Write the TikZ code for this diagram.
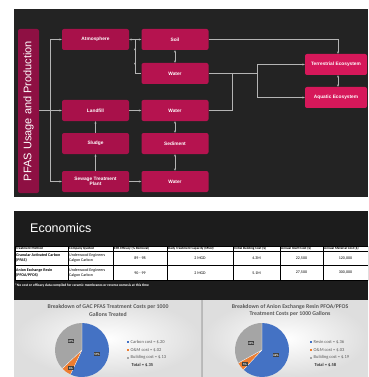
\documentclass[tikz,border=0pt]{standalone}
\usepackage{fontspec}
\setmainfont{Liberation Sans}
\newfontfamily\calib{Carlito}
\usetikzlibrary{arrows.meta}
\definecolor{topbg}{HTML}{232323}
\definecolor{botbg}{HTML}{1C1C1C}
\definecolor{sidec}{HTML}{8E1043}
\definecolor{leftc}{HTML}{A8114A}
\definecolor{midc}{HTML}{B5134F}
\definecolor{rightc}{HTML}{D6185A}
\definecolor{connc}{HTML}{B4B4B4}
\definecolor{pblue}{HTML}{4472C4}
\definecolor{porange}{HTML}{ED7D31}
\definecolor{pgray}{HTML}{A5A5A5}
\definecolor{txtgray}{HTML}{595959}
\begin{document}
\begin{tikzpicture}[x=1pt,y=-1pt,
  box/.style={minimum width=67pt,minimum height=21pt,rounded corners=2pt,inner sep=0pt,
    text=white,font=\bfseries\fontsize{4.8}{5.6}\selectfont,align=center},
  lbox/.style={box,fill=leftc},
  mbox/.style={box,fill=midc},
  rbox/.style={box,fill=rightc,minimum width=62pt},
  conn/.style={draw=connc,line width=0.5pt,arrows={-}},
  tip/.style={-{Stealth[length=2.4pt,width=2pt]}},
  tips/.style={{Stealth[length=2.4pt,width=2pt]}-{Stealth[length=2.4pt,width=2pt]}},
  hdr/.style={anchor=west,inner sep=0pt,font=\calib\bfseries\fontsize{3.4}{4}\selectfont},
  cellL/.style={anchor=west,inner sep=0pt,align=left,font=\calib\fontsize{4}{5.2}\selectfont},
  cellB/.style={cellL,font=\calib\bfseries\fontsize{4}{5.2}\selectfont},
  cellC/.style={inner sep=0pt,font=\calib\fontsize{4}{5}\selectfont},
  ctitle/.style={align=center,inner sep=0pt,text=txtgray,font=\calib\bfseries\fontsize{5.8}{7.2}\selectfont},
  plab/.style={fill=black!75,text=white,inner sep=0.8pt,font=\calib\bfseries\fontsize{3}{3.5}\selectfont},
  leg/.style={anchor=west,inner sep=0pt,text=txtgray,font=\calib\fontsize{4.5}{5}\selectfont}
]
\useasboundingbox (0,0) rectangle (368,377);
\clip (0,0) rectangle (368,377);
\fill[white] (0,0) rectangle (368,377);

% ---------- top slide ----------
\fill[topbg] (14,9) rectangle (368,197);
\node[fill=sidec,rounded corners=2pt,minimum width=21pt,minimum height=164pt,inner sep=0pt] (side) at (28.5,111) {};
\node[rotate=90,text=white,font=\fontsize{11}{13}\selectfont,inner sep=0pt] (sidet) at (side.center) {PFAS Usage and Production};

\node[lbox] (atm) at (95.5,39.5) {Atmosphere};
\node[mbox] (soil) at (175,39.5) {Soil};
\node[mbox] (w1) at (175,73.5) {Water};
\node[rbox] (ter) at (336,64.5) {Terrestrial Ecosystem};
\node[rbox] (aq) at (336,97.5) {Aquatic Ecosystem};
\node[lbox] (land) at (95.5,110.5) {Landfill};
\node[mbox] (w2) at (175,110.5) {Water};
\node[lbox] (slu) at (95.5,143.5) {Sludge};
\node[mbox] (sed) at (175,143.5) {Sediment};
\node[lbox] (sew) at (95.5,181.5) {Sewage Treatment\\Plant};
\node[mbox] (w3) at (175,181.5) {Water};

\coordinate (trunk) at (50,110.5);
\coordinate (as) at (135,39.5);
\coordinate (as1) at (135,48);
\coordinate (as2) at (135,65);
\coordinate (j1) at (257,73.5);
\coordinate (j2) at (232,73.5);

\draw[conn,tip] (side.east |- land.west) -- (land.west);
\draw[conn,tip] (trunk) |- (atm.west);
\draw[conn,tip] (trunk) |- (sew.west);
\draw[conn,tips] (atm.east) -- (soil.west);
\draw[conn] (as) |- (w1.west);
\draw[conn,tips] (as1) -- (as2);
\draw[conn,tips] (soil.south) -- (w1.north);
\draw[conn,tip] (soil.east) -| ([xshift=2pt]ter.north);
\draw[conn] (w1.east) -- (j1);
\draw[conn,tip] (j1) |- (ter.west);
\draw[conn,tip] (j1) |- (aq.west);
\draw[conn] (w2.east) -| (j2);
\draw[conn,tips] ([xshift=2pt]ter.south) -- ([xshift=2pt]aq.north);
\draw[conn,tip] (land.east) -- (w2.west);
\draw[conn,tips] (w2.south) -- (sed.north);
\draw[conn,tips] (sed.south) -- (w3.north);
\draw[conn,tip] (slu.north) -- (land.south);
\draw[conn,tip] (sew.north) -- (slu.south);
\draw[conn,tip] (sew.east) -- (w3.west);

% ---------- bottom slide ----------
\fill[botbg] (14,211) rectangle (368,300);
\node[anchor=west,text=white,inner sep=0pt,font=\fontsize{12.5}{14}\selectfont] (eco) at (30,228) {Economics};

\fill[white] (15,246) rectangle (368,280);
\draw[black,line width=0.6pt] (15,246) rectangle (368,280);
\foreach \yy in {251,265.5} \draw[black,line width=0.5pt] (15,\yy) -- (368,\yy);
\foreach \xx in {68,113,167,233,280,323} \draw[black,line width=0.5pt] (\xx,246) -- (\xx,280);

\node[hdr] (h1) at (16,248.5) {Treatment Method};
\node[hdr] (h2) at (69,248.5) {Company Quoted};
\node[hdr] (h3) at (114,248.5) {EPA Efficacy (\% Removal)};
\node[hdr] (h4) at (168,248.5) {Daily Treatment Capacity (MGD)};
\node[hdr] (h5) at (234,248.5) {Initial Building Cost (\$)};
\node[hdr] (h6) at (281,248.5) {Annual O\&M Cost (\$)};
\node[hdr] (h7) at (324,248.5) {Annual Material Cost (\$)};

\node[cellB] (r1a) at (16,258.2) {Granular Activated Carbon\\(PFAS)};
\node[cellL] (r1b) at (69,258.2) {Underwood Engineers\\Calgon Carbon};
\node[cellC] (r1c) at (140,258.2) {89 - 98};
\node[cellC] (r1d) at (200,258.2) {2 MGD};
\node[cellC] (r1e) at (256.5,258.2) {4.3M};
\node[cellC] (r1f) at (301.5,258.2) {22,500};
\node[cellC] (r1g) at (345.5,258.2) {120,000};

\node[cellB] (r2a) at (16,272.8) {Anion Exchange Resin\\(PFOA/PFOS)};
\node[cellL] (r2b) at (69,272.8) {Underwood Engineers\\Calgon Carbon};
\node[cellC] (r2c) at (140,272.8) {90 - 99};
\node[cellC] (r2d) at (200,272.8) {2 MGD};
\node[cellC] (r2e) at (256.5,272.8) {5.1M};
\node[cellC] (r2f) at (301.5,272.8) {27,500};
\node[cellC] (r2g) at (345.5,272.8) {300,000};

\node[anchor=west,inner sep=0pt,text=white,font=\calib\bfseries\fontsize{3.6}{4}\selectfont] (foot) at (15,285)
  {*No cost or efficacy data compiled for ceramic membranes or reverse osmosis at this time};

% chart panels
\fill[black!28] (14,300) rectangle (368,377);
\shade[inner color=white,outer color=black!13] (14,300) rectangle (201,377);
\shade[inner color=white,outer color=black!13] (203,300) rectangle (368,377);

\node[ctitle] (t1) at (108,310.5) {Breakdown of GAC PFAS Treatment Costs per 1000\\Gallons Treated};
\node[ctitle] (t2) at (290,310.5) {Breakdown of Anion Exchange Resin PFOA/PFOS\\Treatment Costs per 1000 Gallons};

% left pie
\coordinate (p1) at (82,350);
\fill[pblue] (p1) -- +(90:27pt) arc[start angle=90,end angle=-115.2,radius=27pt] -- cycle;
\fill[porange] (p1) -- +(-115.2:27pt) arc[start angle=-115.2,end angle=-136.8,radius=27pt] -- cycle;
\fill[pgray] (p1) -- +(-136.8:27pt) arc[start angle=-136.8,end angle=-270,radius=27pt] -- cycle;
\draw[white,line width=0.3pt] (p1) -- +(90:27pt) (p1) -- +(-115.2:27pt) (p1) -- +(-136.8:27pt);
\node[plab] (l1a) at (71,341) {37\%};
\node[plab] (l1b) at (97,354) {57\%};
\node[plab] (l1c) at (71,368) {6\%};

% right pie
\coordinate (p2) at (262,350);
\fill[pblue] (p2) -- +(90:27pt) arc[start angle=90,end angle=-133.2,radius=27pt] -- cycle;
\fill[porange] (p2) -- +(-133.2:27pt) arc[start angle=-133.2,end angle=-151.2,radius=27pt] -- cycle;
\fill[pgray] (p2) -- +(-151.2:27pt) arc[start angle=-151.2,end angle=-270,radius=27pt] -- cycle;
\draw[white,line width=0.3pt] (p2) -- +(90:27pt) (p2) -- +(-133.2:27pt) (p2) -- +(-151.2:27pt);
\node[plab] (l2a) at (251,343) {33\%};
\node[plab] (l2b) at (276,355) {62\%};
\node[plab] (l2c) at (245,364) {5\%};

% legends
\fill[pblue] (126.5,341) rectangle +(2.4,2.4);
\fill[porange] (126.5,348.8) rectangle +(2.4,2.4);
\fill[pgray] (126.5,356.5) rectangle +(2.4,2.4);
\node[leg] (g1a) at (130.5,342.2) {Carbon cost = \$.20};
\node[leg] (g1b) at (130.5,350) {O\&M cost = \$.02};
\node[leg] (g1c) at (130.5,357.7) {Building cost = \$.13};
\node[leg,font=\calib\bfseries\fontsize{4.5}{5}\selectfont,text=black!80] (g1d) at (131.5,365.3) {Total = \$.35};

\fill[pblue] (309.5,341) rectangle +(2.4,2.4);
\fill[porange] (309.5,348.8) rectangle +(2.4,2.4);
\fill[pgray] (309.5,356.5) rectangle +(2.4,2.4);
\node[leg] (g2a) at (313.5,342.2) {Resin cost = \$.36};
\node[leg] (g2b) at (313.5,350) {O\&M cost = \$.03};
\node[leg] (g2c) at (313.5,357.7) {Building cost = \$.19};
\node[leg,font=\calib\bfseries\fontsize{4.5}{5}\selectfont,text=black!80] (g2d) at (314.5,365.3) {Total = \$.58};
\end{tikzpicture}
\end{document}
